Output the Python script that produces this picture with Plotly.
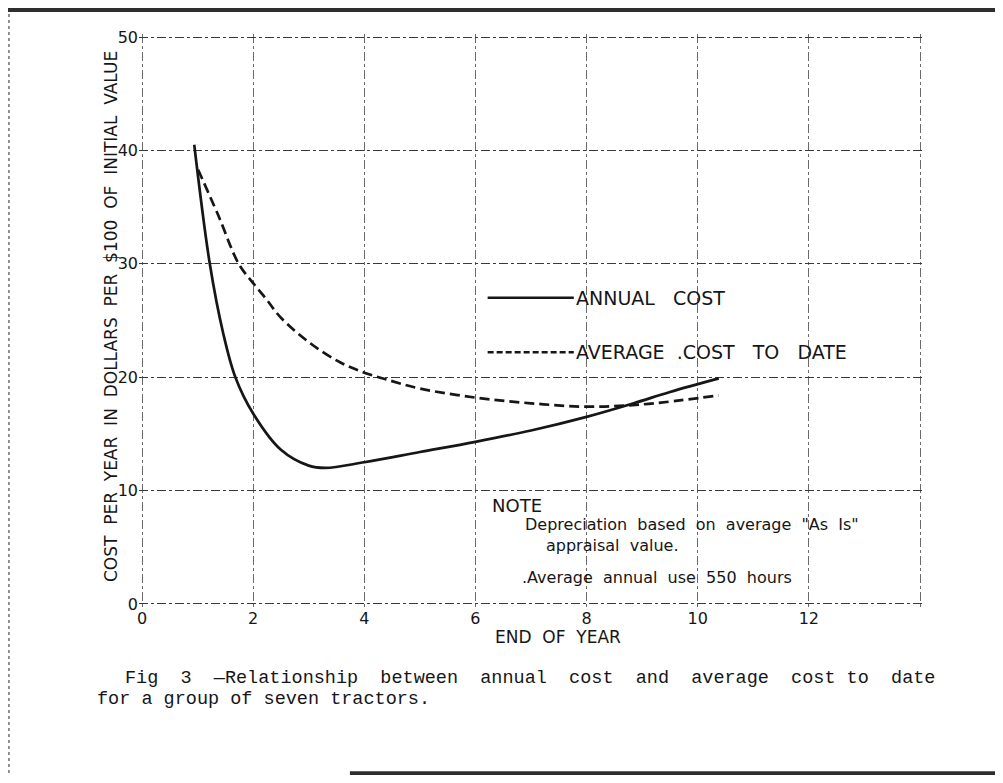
import plotly.graph_objects as go

# ---- Data ----
annual_x = [0.94, 1.22, 1.46, 1.68, 2.0, 2.5, 3.0, 3.3, 4.0, 5.0, 6.0, 7.0, 8.0, 8.85, 9.5, 10.38]
annual_y = [40.5, 30.0, 23.9, 20.0, 16.8, 13.6, 12.2, 12.0, 12.5, 13.4, 14.3, 15.3, 16.5, 17.7, 18.7, 19.9]

avg_x = [1.01, 1.37, 1.74, 2.0, 2.25, 2.49, 3.0, 3.57, 4.0, 4.4, 5.0, 6.0, 7.0, 8.0, 9.0, 10.38]
avg_y = [38.3, 34.3, 30.0, 28.3, 26.8, 25.3, 23.1, 21.3, 20.4, 19.8, 19.0, 18.2, 17.7, 17.4, 17.6, 18.4]

grid_x = [0, 2, 4, 6, 8, 10, 12, 14]
x_tick_labels = ["0", "2", "4", "6", "8", "10", "12", ""]
grid_y = [0, 10, 20, 30, 40, 50]
y_tick_labels = ["0", "10", "20", "30", "40", "50"]

legend_names = ["ANNUAL   COST", "AVERAGE  .COST   TO   DATE"]
note_title = "NOTE"
note_lines = ['Depreciation  based  on  average  "As  Is"',
              "appraisal  value.",
              ".Average  annual  use  550  hours"]
x_title = "END  OF  YEAR"
y_title = "COST  PER  YEAR  IN  DOLLARS  PER  $100  OF  INITIAL  VALUE"
caption_1 = "Fig  3  —Relationship  between  annual  cost  and  average  cost to  date"
caption_2 = "for a group of seven tractors."

LETTER = "DejaVu Sans"
PRINT = "Liberation Mono"
INK = "#161616"

fig = go.Figure()
fig.add_trace(go.Scatter(x=annual_x, y=annual_y, mode="lines",
                         line=dict(color=INK, width=2.7, shape="spline", smoothing=1.0),
                         name=legend_names[0], showlegend=False))
fig.add_trace(go.Scatter(x=avg_x, y=avg_y, mode="lines",
                         line=dict(color=INK, width=2.7, dash="10px,5px", shape="spline", smoothing=1.0),
                         name=legend_names[1], showlegend=False))

# hand-lettered legend inside the grid
key_x0, key_x1 = 6.22, 7.77
key_y = [27.0, 22.2]
fig.add_shape(type="line", x0=key_x0, x1=key_x1, y0=key_y[0], y1=key_y[0],
              xref="x", yref="y", line=dict(color=INK, width=2.4))
fig.add_shape(type="line", x0=key_x0, x1=key_x1, y0=key_y[1], y1=key_y[1],
              xref="x", yref="y", line=dict(color=INK, width=2.4, dash="6px,3px"))
for name, yy in zip(legend_names, key_y):
    fig.add_annotation(x=key_x1, y=yy, xref="x", yref="y", text=name, showarrow=False,
                       xanchor="left", yanchor="middle",
                       font=dict(family=LETTER, size=19, color=INK))

# note block
fig.add_annotation(x=6.27, y=8.7, xref="x", yref="y", text=note_title, showarrow=False,
                   xanchor="left", yanchor="middle", font=dict(family=LETTER, size=18, color=INK))
for txt, xx, yy in zip(note_lines, [6.86, 7.23, 6.81], [7.0, 5.2, 2.3]):
    fig.add_annotation(x=xx, y=yy, xref="x", yref="y", text=txt, showarrow=False,
                       xanchor="left", yanchor="middle", font=dict(family=LETTER, size=16, color=INK))

# axis titles
fig.add_annotation(x=7.48, y=0, xref="x", yref="y", yshift=-33, text=x_title, showarrow=False,
                   xanchor="center", yanchor="middle", font=dict(family=LETTER, size=17, color=INK))
fig.add_annotation(x=0, y=25.3, xref="x", yref="y", xshift=-31, text=y_title,
                   textangle=-90, showarrow=False, xanchor="center", yanchor="middle",
                   font=dict(family=LETTER, size=17, color=INK))

# caption
fig.add_annotation(x=0, y=0, xref="x", yref="y", xshift=-19, yshift=-75, text=caption_1,
                   showarrow=False, xanchor="left", yanchor="middle",
                   font=dict(family=PRINT, size=18.5, color=INK))
fig.add_annotation(x=0, y=0, xref="x", yref="y", xshift=-47, yshift=-96, text=caption_2,
                   showarrow=False, xanchor="left", yanchor="middle",
                   font=dict(family=PRINT, size=18.5, color=INK))

# scanned page edges
fig.add_shape(type="line", xref="paper", yref="paper", x0=-0.18, x1=1.1, y0=1.042, y1=1.042,
              line=dict(color="#2e2e2e", width=4))
fig.add_shape(type="line", xref="paper", yref="paper", x0=-0.166, x1=-0.166, y0=-0.3, y1=1.04,
              line=dict(color="#8a8a8a", width=2, dash="dot"))
fig.add_shape(type="line", xref="paper", yref="paper", x0=0.269, x1=1.1, y0=-0.29, y1=-0.29,
              line=dict(color="#2e2e2e", width=4))

fig.update_xaxes(range=[-0.054, 14.054], tickmode="array", tickvals=grid_x, ticktext=x_tick_labels,
                 showgrid=True, gridcolor="#6a6a6a", gridwidth=1, griddash="dashdot",
                 zeroline=False, showline=False, ticks="",
                 tickfont=dict(family=LETTER, size=16, color=INK))
fig.update_yaxes(range=[-0.265, 50.265], tickmode="array", tickvals=grid_y, ticktext=y_tick_labels,
                 showgrid=True, gridcolor="#3a3a3a", gridwidth=1.3, griddash="dashdot",
                 zeroline=False, showline=False, ticks="", ticklabelstandoff=0,
                 tickfont=dict(family=LETTER, size=16, color=INK))

fig.update_layout(width=987, height=767,
                  margin=dict(l=131, r=72, t=26, b=168),
                  paper_bgcolor="white", plot_bgcolor="white",
                  showlegend=False)

fig.write_html("out.html")
